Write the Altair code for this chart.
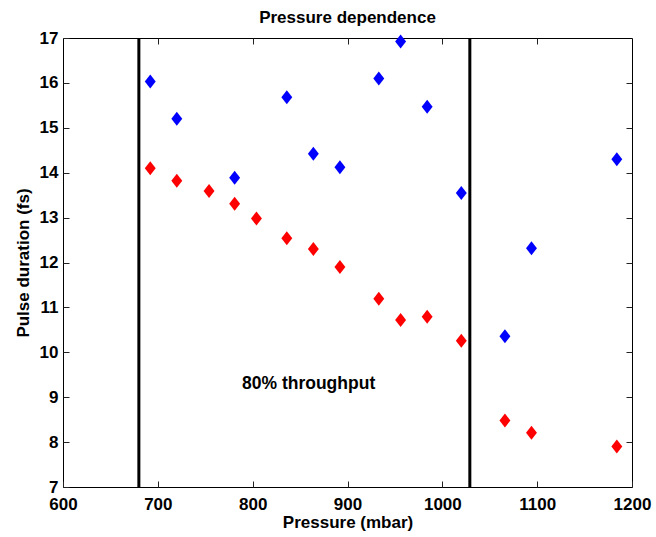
import altair as alt
import pandas as pd

# ---- data ----
pressure_blue = [692, 720, 781, 836, 864, 892, 933, 956, 984, 1020, 1066, 1094, 1184]
duration_blue = [16.03, 15.20, 13.89, 15.68, 14.42, 14.12, 16.10, 16.92, 15.47, 13.55, 10.36, 12.32, 14.30]
pressure_red = [692, 720, 754, 781, 804, 836, 864, 892, 933, 956, 984, 1020, 1066, 1094, 1184]
duration_red = [14.10, 13.82, 13.59, 13.31, 12.98, 12.54, 12.30, 11.90, 11.19, 10.72, 10.79, 10.26, 8.48, 8.21, 7.90]
throughput_limits = [680, 1029]
annotation_x = [859]
annotation_y = [9.29]
annotation_text = ["80% throughput"]
x_ticks = [600, 700, 800, 900, 1000, 1100, 1200]
x_top_ticks = [700, 800, 900, 1000, 1100]
y_ticks = [7, 8, 9, 10, 11, 12, 13, 14, 15, 16, 17]
y_right_ticks = [8, 9, 10, 11, 12, 13, 14, 15, 16]
series_names = ["blue", "red"]
series_colors = ["#0000ff", "#ff0000"]

df = pd.DataFrame({
    "pressure": pressure_blue + pressure_red,
    "duration": duration_blue + duration_red,
    "series": ["blue"] * len(pressure_blue) + ["red"] * len(pressure_red),
})
limits_df = pd.DataFrame({"limit": throughput_limits})
ann_df = pd.DataFrame({"x": annotation_x, "y": annotation_y, "text": annotation_text})

FONT = "Liberation Sans"
FS = 17
TICK = 6
DIAMOND = "M0,-1L0.78,0L0,1L-0.78,0Z"

xs = alt.Scale(domain=[600, 1200], nice=False, zero=False)
ys = alt.Scale(domain=[7, 17], nice=False, zero=False)

common = dict(domain=False, grid=False, offset=-TICK, tickSize=TICK, tickColor="#222222",
              labelFont=FONT, labelFontSize=FS, labelFontWeight="bold", labelColor="black",
              labelFlush=False, labelOverlap=False, labelBound=False,
              titleFont=FONT, titleFontSize=FS, titleFontWeight="bold", titleColor="black")

x_bottom = alt.Axis(orient="bottom", values=x_ticks, format="d", labelPadding=9,
                    title="Pressure (mbar)", titlePadding=2, **common)
x_top = alt.Axis(orient="top", values=x_top_ticks, labels=False, title=None, **common)
y_left = alt.Axis(orient="left", values=y_ticks, format="d", labelPadding=5,
                  title="Pulse duration (fs)", titlePadding=7, **common)
y_right = alt.Axis(orient="right", values=y_right_ticks, labels=False, title=None, **common)

rules = alt.Chart(limits_df).mark_rule(color="black", strokeWidth=3).encode(
    x=alt.X("limit:Q", scale=xs, axis=x_top)
)

points = alt.Chart(df).mark_point(shape=DIAMOND, filled=True, size=196, opacity=1, strokeWidth=0).encode(
    x=alt.X("pressure:Q", scale=xs, axis=x_bottom),
    y=alt.Y("duration:Q", scale=ys, axis=y_left),
    color=alt.Color("series:N", scale=alt.Scale(domain=series_names, range=series_colors), legend=None),
)

text = alt.Chart(ann_df).mark_text(font=FONT, fontSize=17.5, fontWeight="bold", color="black").encode(
    x=alt.X("x:Q", scale=xs, axis=None),
    y=alt.Y("y:Q", scale=ys, axis=y_right),
    text="text:N",
)

chart = alt.layer(rules, points, text).resolve_axis(
    x="independent", y="independent"
).properties(
    width=569,
    height=449,
    autosize=alt.AutoSizeParams(type="none"),
    padding={"left": 63, "top": 38, "right": 24, "bottom": 50},
    title=alt.TitleParams("Pressure dependence", font=FONT, fontSize=FS, fontWeight="bold",
                          color="black", anchor="middle", frame="group", offset=2),
    background="white",
).configure_view(stroke="black", strokeWidth=1)

chart.save("out.html", embed_options={"renderer": "svg", "actions": False})
